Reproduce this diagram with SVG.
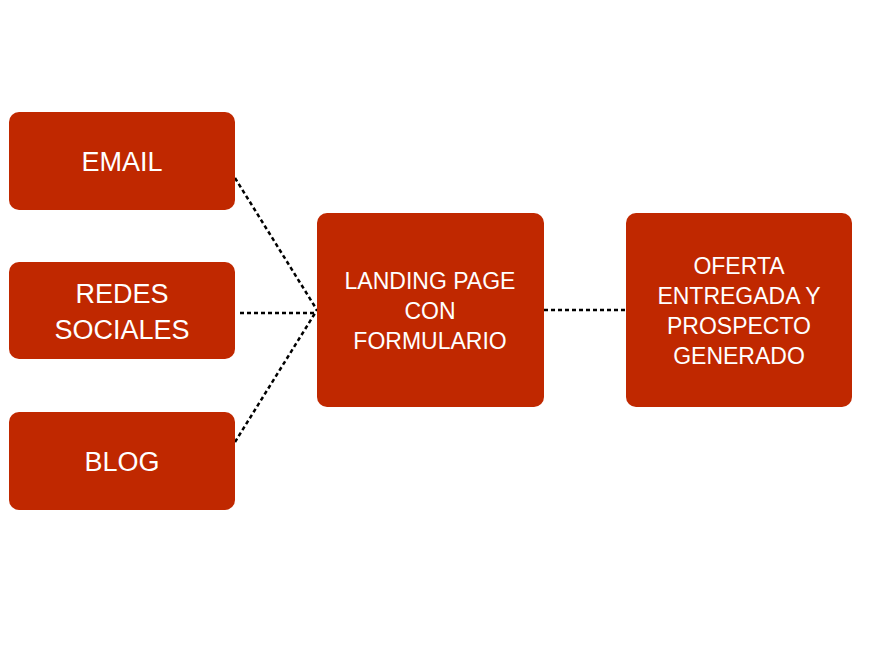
<svg xmlns="http://www.w3.org/2000/svg" width="869" height="652" viewBox="0 0 869 652">
<style>
.box{fill:#c02800}
.t{fill:#fff;font-family:"Liberation Sans",Arial,sans-serif;text-anchor:middle}
.l{font-size:27px}
.s{font-size:23px}
.c{stroke:#000;stroke-width:2.5;stroke-dasharray:4 3;fill:none}
</style>
<rect width="869" height="652" fill="#fff"/>
<g id="connectors">
<line class="c" x1="235" y1="178" x2="317" y2="310"/>
<line class="c" x1="240" y1="313" x2="317" y2="313"/>
<line class="c" x1="235" y1="442" x2="317" y2="310"/>
<line class="c" x1="544" y1="310" x2="626" y2="310"/>
</g>
<g id="email"><rect class="box" x="9" y="112" width="226" height="98" rx="10"/><text class="t l" x="122" y="171">EMAIL</text></g>
<g id="redes"><rect class="box" x="9" y="262" width="226" height="97" rx="10"/><text class="t l" x="122" y="303">REDES</text><text class="t l" x="122" y="339">SOCIALES</text></g>
<g id="blog"><rect class="box" x="9" y="412" width="226" height="98" rx="10"/><text class="t l" x="122" y="471">BLOG</text></g>
<g id="landing"><rect class="box" x="317" y="213" width="227" height="194" rx="10"/><text class="t s" x="430" y="289">LANDING PAGE</text><text class="t s" x="430" y="319">CON</text><text class="t s" x="430" y="349">FORMULARIO</text></g>
<g id="oferta"><rect class="box" x="626" y="213" width="226" height="194" rx="10"/><text class="t s" x="739" y="274">OFERTA</text><text class="t s" x="739" y="304">ENTREGADA Y</text><text class="t s" x="739" y="334">PROSPECTO</text><text class="t s" x="739" y="364">GENERADO</text></g>
</svg>
